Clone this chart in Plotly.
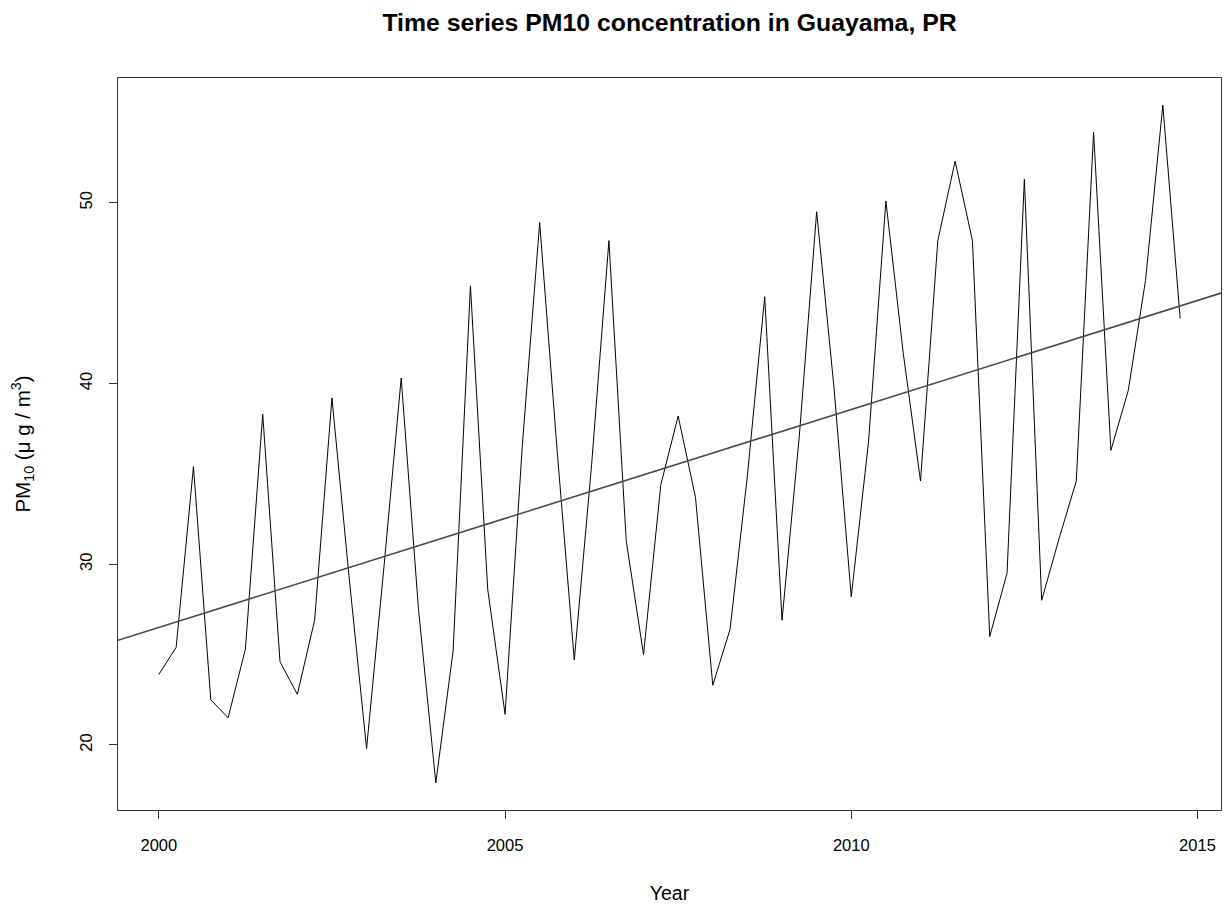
import numpy as np
import plotly.graph_objects as go

# Quarterly PM10 concentration, Guayama PR, 2000 Q1 .. 2014 Q4
start_year = 2000
quarters_per_year = 4
pm10 = [
    23.9, 25.4, 35.4, 22.5,   # 2000
    21.5, 25.3, 38.3, 24.6,   # 2001
    22.8, 26.9, 39.2, 29.2,   # 2002
    19.8, 29.8, 40.3, 27.5,   # 2003
    17.9, 25.2, 45.4, 28.6,   # 2004
    21.7, 36.6, 48.9, 36.4,   # 2005
    24.7, 35.5, 47.9, 31.3,   # 2006
    25.0, 34.4, 38.2, 33.7,   # 2007
    23.3, 26.4, 34.9, 44.8,   # 2008
    26.9, 37.1, 49.5, 39.8,   # 2009
    28.2, 36.8, 50.1, 41.7,   # 2010
    34.6, 47.9, 52.3, 47.9,   # 2011
    26.0, 29.5, 51.3, 28.0,   # 2012
    31.4, 34.6, 53.9, 36.3,   # 2013
    39.6, 45.7, 55.4, 43.6,   # 2014
]
# linear trend as shown in the chart (value at 2000, change per year)
trend_at_2000 = 26.5
trend_slope = 1.206

x_ticks = [2000, 2005, 2010, 2015]
y_ticks = [20, 30, 40, 50]
title_text = "<b>Time series PM10 concentration in Guayama, PR</b>"
x_label = "Year"
y_label = "PM<sub>10</sub> (μ g / m<sup>3</sup>)"

t = np.array([start_year + i / quarters_per_year for i in range(len(pm10))])
y = np.array(pm10)

# R-style 4% axis extension
def ext(a):
    lo, hi = float(np.min(a)), float(np.max(a))
    d = (hi - lo) * 0.04
    return [lo - d, hi + d]

xr = ext(t)
yr = ext(y)

# trend drawn across the whole plot like abline
tx = np.array(xr)
ty = trend_at_2000 + trend_slope * (tx - start_year)

font = "Liberation Sans, Arial, sans-serif"
W, H = 1215, 896  # page body has an 8px margin

fig = go.Figure()
fig.add_trace(go.Scatter(x=t, y=y, mode="lines",
                         line=dict(color="#000000", width=1), showlegend=False))
fig.add_trace(go.Scatter(x=tx, y=ty, mode="lines",
                         line=dict(color="#4a4a4a", width=1.6), showlegend=False))

fig.update_layout(
    width=W, height=H,
    margin=dict(l=110, r=2, t=70, b=94, autoexpand=False),
    paper_bgcolor="white", plot_bgcolor="white",
    font=dict(family=font, size=16, color="#000"),
    title=dict(text=title_text, x=0.5, xref="paper", y=1 - 14 / H,
               yref="container", yanchor="middle", xanchor="center",
               automargin=False,
               font=dict(family=font, size=24.8, color="#000")),
)
fig.update_xaxes(range=xr, tickvals=x_ticks, ticks="outside", ticklen=8,
                 tickcolor="#333", showline=True, linecolor="#333", linewidth=1,
                 mirror=True, showgrid=False, zeroline=False, automargin=False,
                 tickfont=dict(size=16.5), ticklabelstandoff=12,
                 title=dict(text=x_label, standoff=37, font=dict(size=19.5)))
fig.update_yaxes(range=yr, tickvals=y_ticks, ticks="outside", ticklen=8,
                 tickcolor="#333", showline=True, linecolor="#333", linewidth=1,
                 mirror=True, showgrid=False, zeroline=False, tickangle=-90,
                 automargin=False,
                 tickfont=dict(size=16.5), ticklabelstandoff=10,
                 title=dict(text=y_label, standoff=43, font=dict(size=20.5)))

fig.write_html("out.html")
